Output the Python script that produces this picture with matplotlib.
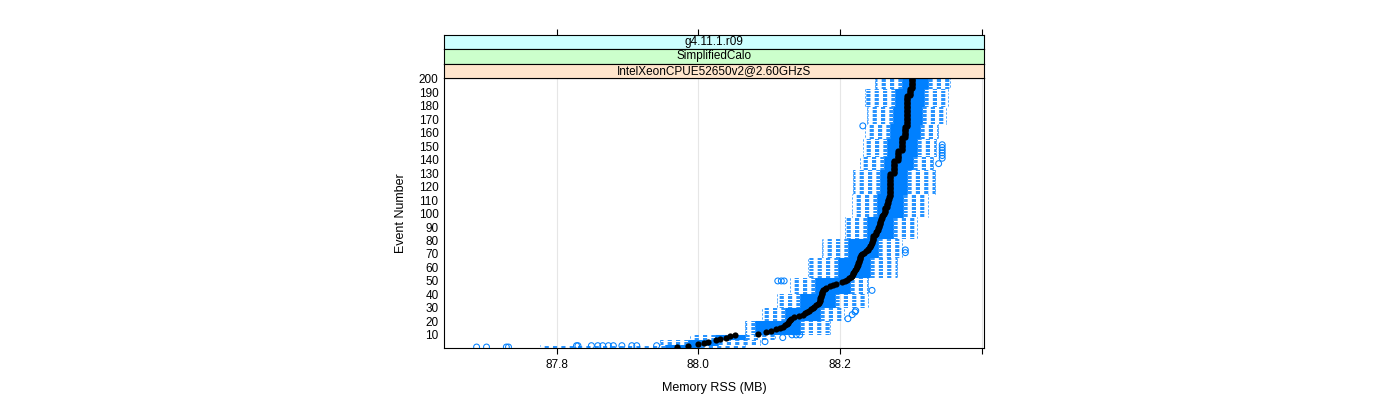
import numpy as np
import matplotlib
matplotlib.use("Agg")
import matplotlib.pyplot as plt
from matplotlib.collections import LineCollection

plt.rcParams['font.family'] = ['Liberation Sans', 'DejaVu Sans']

# ---------------- data ----------------
events = np.arange(1, 201)

medians = [
    87.970, 87.985, 88.000, 88.008, 88.014, 88.025, 88.031, 88.039, 88.044, 88.052,
    88.084, 88.095, 88.102, 88.109, 88.115, 88.119, 88.122, 88.125, 88.126, 88.128,
    88.129, 88.131, 88.135, 88.142, 88.148, 88.150, 88.153, 88.156, 88.159, 88.162,
    88.163, 88.166, 88.169, 88.170, 88.172, 88.172, 88.172, 88.173, 88.173, 88.174,
    88.174, 88.174, 88.176, 88.179, 88.180, 88.186, 88.190, 88.194, 88.203, 88.207,
    88.210, 88.212, 88.215, 88.217, 88.218, 88.218, 88.219, 88.221, 88.222, 88.224,
    88.224, 88.225, 88.225, 88.226, 88.226, 88.228, 88.228, 88.228, 88.229, 88.231,
    88.233, 88.236, 88.239, 88.240, 88.242, 88.242, 88.243, 88.245, 88.245, 88.246,
    88.246, 88.246, 88.247, 88.249, 88.250, 88.250, 88.252, 88.253, 88.253, 88.255,
    88.255, 88.256, 88.256, 88.256, 88.257, 88.257, 88.259, 88.259, 88.260, 88.262,
    88.263, 88.263, 88.264, 88.264, 88.266, 88.266, 88.266, 88.267, 88.267, 88.267,
    88.269, 88.269, 88.270, 88.270, 88.270, 88.270, 88.270, 88.270, 88.270, 88.270,
    88.270, 88.270, 88.270, 88.270, 88.270, 88.270, 88.270, 88.270, 88.270, 88.276,
    88.276, 88.276, 88.276, 88.276, 88.276, 88.276, 88.276, 88.276, 88.276, 88.281,
    88.281, 88.281, 88.281, 88.281, 88.281, 88.281, 88.287, 88.287, 88.287, 88.287,
    88.287, 88.287, 88.287, 88.287, 88.287, 88.287, 88.291, 88.291, 88.291, 88.291,
    88.291, 88.291, 88.291, 88.291, 88.295, 88.295, 88.295, 88.295, 88.295, 88.295,
    88.295, 88.295, 88.295, 88.295, 88.295, 88.295, 88.295, 88.295, 88.295, 88.295,
    88.295, 88.295, 88.295, 88.295, 88.295, 88.295, 88.295, 88.298, 88.298, 88.298,
    88.298, 88.298, 88.301, 88.301, 88.301, 88.301, 88.301, 88.301, 88.301, 88.301,
]

# box statistics, constant over runs of consecutive events (first event of each run)
block_first = [1, 3, 7, 11, 21, 31, 41, 53, 68, 82, 98, 115, 133, 143, 156, 167, 180, 193]
block_lo = [87.776, 87.946, 87.988, 88.066, 88.090, 88.111, 88.129, 88.154, 88.174, 88.207,
            88.217, 88.218, 88.228, 88.232, 88.235, 88.238, 88.235, 88.249]
block_q1 = [87.953, 87.985, 88.023, 88.080, 88.122, 88.143, 88.164, 88.197, 88.211, 88.238,
            88.252, 88.256, 88.262, 88.266, 88.270, 88.274, 88.277, 88.287]
block_q3 = [88.002, 88.028, 88.066, 88.143, 88.172, 88.193, 88.214, 88.242, 88.253, 88.274,
            88.288, 88.295, 88.303, 88.308, 88.313, 88.315, 88.319, 88.324]
block_hi = [88.066, 88.087, 88.108, 88.186, 88.205, 88.239, 88.240, 88.280, 88.287, 88.308,
            88.324, 88.334, 88.331, 88.335, 88.338, 88.349, 88.352, 88.355]

outlier_event = [1, 1, 1, 1,
                 2, 2, 2, 2, 2, 2, 2, 2, 2, 2, 2,
                 5, 8, 10, 10, 10, 22, 25, 27, 28, 43, 50, 50, 50, 71, 73,
                 137, 141, 143, 145, 147, 149, 151, 165]
outlier_value = [87.687, 87.701, 87.729, 87.732,
                 87.828, 87.830, 87.849, 87.858, 87.865, 87.873, 87.880, 87.892, 87.906, 87.913, 87.941,
                 88.094, 88.119, 88.132, 88.138, 88.143, 88.211, 88.217, 88.221, 88.222, 88.245,
                 88.112, 88.117, 88.121, 88.292, 88.292,
                 88.339, 88.344, 88.344, 88.344, 88.344, 88.344, 88.344, 88.232]

x_ticks = [87.8, 88.0, 88.2, 88.4]
x_ticklabels = ["87.8", "88.0", "88.2", ""]
y_ticks = list(range(10, 201, 10))
strip_labels = ["g4.11.1.r09", "SimplifiedCalo", "IntelXeonCPUE52650v2@2.60GHzS"]
strip_colors = ["#ccffff", "#ccffcc", "#ffe5cc"]

# ---------------- expand run statistics to events ----------------
idx = np.searchsorted(block_first, events, side="right") - 1
lo = np.array(block_lo)[idx]
q1 = np.array(block_q1)[idx]
q3 = np.array(block_q3)[idx]
hi = np.array(block_hi)[idx]
med = np.array(medians)
y = events.astype(float)

BLUE = "#0080ff"
hw = 0.25  # half box height (box.ratio = 1)

W, H = 1400, 400
fig = plt.figure(figsize=(W / 100, H / 100), dpi=100)
px_left, px_right, px_top, px_bottom = 444, 984, 78, 347.7
ax = fig.add_axes([px_left / W, 1 - px_bottom / H, (px_right - px_left) / W, (px_bottom - px_top) / H])
xlim = (87.641, 88.403)
ax.set_xlim(*xlim)
ax.set_ylim(0.5, 200.5)

for xv in x_ticks:
    ax.axvline(xv, color="#e6e6e6", lw=0.8, zorder=0)

# box outlines
box_segs = []
for a, b, yy in zip(q1, q3, y):
    box_segs += [[(a, yy - hw), (b, yy - hw)], [(a, yy + hw), (b, yy + hw)],
                 [(a, yy - hw), (a, yy + hw)], [(b, yy - hw), (b, yy + hw)]]
ax.add_collection(LineCollection(box_segs, colors=BLUE, linewidths=0.75, zorder=2))

# whiskers (dashed) and caps
wh_segs = []
cap_segs = []
for l, a, b, h, yy in zip(lo, q1, q3, hi, y):
    wh_segs += [[(a, yy), (l, yy)], [(b, yy), (h, yy)]]
    cap_segs += [[(l, yy - hw), (l, yy + hw)], [(h, yy - hw), (h, yy + hw)]]
ax.add_collection(LineCollection(wh_segs, colors=BLUE, linewidths=0.6,
                                 linestyles=[(0, (5, 5))], zorder=2))
ax.add_collection(LineCollection(cap_segs, colors=BLUE, linewidths=0.6, zorder=2))

# outliers
ax.scatter(outlier_value, outlier_event, s=18, facecolors="none", edgecolors=BLUE,
           linewidths=0.75, zorder=3)
# medians
ax.scatter(med, y, s=20, c="black", linewidths=0, zorder=4)

ax.set_xticks(x_ticks)
ax.set_xticklabels(x_ticklabels, fontsize=8.5)
ax.set_yticks(y_ticks)
ax.set_yticklabels([str(v) for v in y_ticks], fontsize=8.5)
ax.tick_params(axis="y", length=0, pad=4)
ax.tick_params(axis="x", length=4, width=0.8, direction="out", pad=4)
for s in ax.spines.values():
    s.set_linewidth(0.8)
    s.set_color("black")
ax.set_xlabel("Memory RSS (MB)", fontsize=9, labelpad=8)
ax.set_ylabel("Event Number", fontsize=9, labelpad=8)

# strips
strip_h = (px_top - 35) / 3
for i, (lab, col) in enumerate(zip(strip_labels, strip_colors)):
    top_px = 35 + i * strip_h
    sax = fig.add_axes([px_left / W, 1 - (top_px + strip_h) / H, (px_right - px_left) / W, strip_h / H])
    sax.set_facecolor(col)
    sax.set_xlim(*xlim)
    sax.set_ylim(0, 1)
    sax.set_yticks([])
    if i == 0:
        sax.set_xticks(x_ticks)
        sax.tick_params(axis="x", top=True, bottom=False, labeltop=False, labelbottom=False,
                        length=4, width=0.8, direction="out")
    else:
        sax.set_xticks([])
    for s in sax.spines.values():
        s.set_linewidth(0.8)
        s.set_color("black")
    sax.text(0.5, 0.5, lab, transform=sax.transAxes, ha="center", va="center", fontsize=8.5)

fig.savefig("out.png", dpi=100)
